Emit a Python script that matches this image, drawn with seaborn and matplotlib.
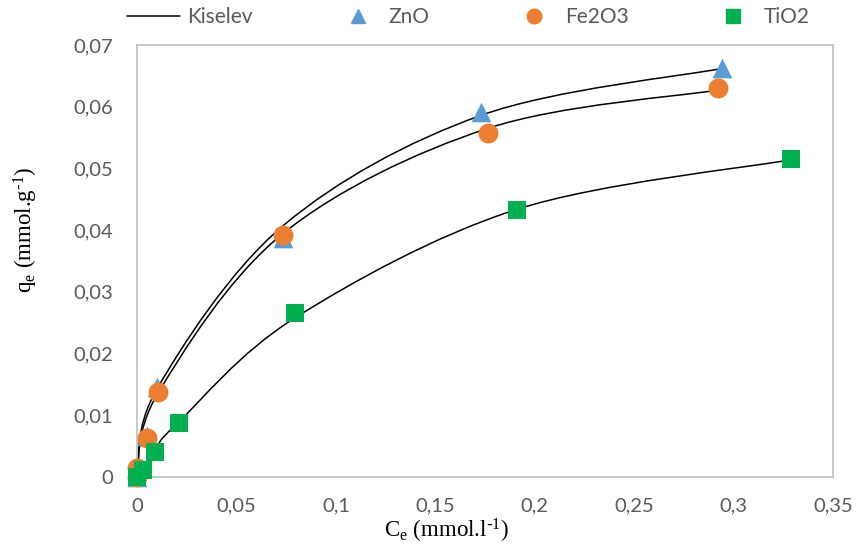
import numpy as np
import pandas as pd
import matplotlib
matplotlib.use("Agg")
import matplotlib.pyplot as plt
from matplotlib.path import Path
from matplotlib.patches import PathPatch
from matplotlib.lines import Line2D
import seaborn as sns

# Measured equilibrium data (Ce in mmol/l, qe in mmol/g)
zno_ce = [0.0, 0.005, 0.0101, 0.0734, 0.1730, 0.2942]
zno_qe = [0.0, 0.0066, 0.0146, 0.0387, 0.0591, 0.0663]

fe_ce = [0.0, 0.0, 0.0050, 0.0106, 0.0736, 0.1765, 0.2922]
fe_qe = [0.0, 0.0015, 0.0063, 0.0138, 0.0392, 0.0557, 0.0630]

ti_ce = [0.0, 0.0028, 0.0091, 0.0209, 0.0795, 0.1913, 0.3287]
ti_qe = [0.0, 0.0012, 0.0041, 0.0087, 0.0266, 0.0432, 0.0516]

# Kiselev model curves
kis_zno_ce = [0.0, 0.0101, 0.0734, 0.1730, 0.2942]
kis_zno_qe = [0.0, 0.0143, 0.0407, 0.0586, 0.0662]
kis_fe_ce = [0.0, 0.0106, 0.0736, 0.1765, 0.2922]
kis_fe_qe = [0.0, 0.0136, 0.0395, 0.0565, 0.0627]
kis_ti_ce = [0.0, 0.0091, 0.0209, 0.0795, 0.1913, 0.3287]
kis_ti_qe = [0.0, 0.0045, 0.0089, 0.0258, 0.0434, 0.0514]

x_ticks = [0, 0.05, 0.1, 0.15, 0.2, 0.25, 0.3, 0.35]
y_ticks = [0, 0.01, 0.02, 0.03, 0.04, 0.05, 0.06, 0.07]

sns.set_theme(style="white")
plt.rcParams["font.family"] = ["Lato", "DejaVu Sans"]
plt.rcParams["mathtext.default"] = "regular"

grey = "#595959"


def smooth_path(xs, ys):
    """Smoothed polyline through the points using cubic Bezier segments."""
    pts = np.column_stack([xs, ys]).astype(float)
    n = len(pts)
    verts = [pts[0]]
    codes = [Path.MOVETO]
    for i in range(n - 1):
        p0 = pts[max(i - 1, 0)]
        p1 = pts[i]
        p2 = pts[i + 1]
        p3 = pts[min(i + 2, n - 1)]
        c1 = p1 + (p2 - p0) / 6.0
        c2 = p2 - (p3 - p1) / 6.0
        verts += [c1, c2, p2]
        codes += [Path.CURVE4] * 3
    return Path(verts, codes)


fig = plt.figure(figsize=(8.56, 5.53), dpi=100)
ax = fig.add_axes([137 / 856, 76 / 553, 696 / 856, 432 / 553])

# Model curves
for xs, ys in [(kis_zno_ce, kis_zno_qe), (kis_fe_ce, kis_fe_qe),
               (kis_ti_ce, kis_ti_qe)]:
    ax.add_patch(PathPatch(smooth_path(xs, ys), facecolor="none",
                           edgecolor="black", lw=1.1, zorder=2))

# Experimental points
series = [
    ("ZnO", zno_ce, zno_qe, "^", "#5B9BD5", 200),
    ("Fe2O3", fe_ce, fe_qe, "o", "#ED7D31", 205),
    ("TiO2", ti_ce, ti_qe, "s", "#00B050", 185),
]
for name, xs, ys, mk, col, s in series:
    df = pd.DataFrame({"Ce": xs, "qe": ys})
    sns.scatterplot(data=df, x="Ce", y="qe", marker=mk, color=col, s=s,
                    linewidth=0, ax=ax, zorder=3, legend=False, clip_on=False)

ax.set_xlim(0, 0.35)
ax.set_ylim(0, 0.07)
ax.set_xticks(x_ticks)
ax.set_yticks(y_ticks)
ax.set_xticklabels([("%g" % v).replace(".", ",") for v in x_ticks])
ax.set_yticklabels([("%g" % v).replace(".", ",") for v in y_ticks])
ax.tick_params(axis="both", length=0, labelsize=14.5, labelcolor=grey)
ax.tick_params(axis="x", pad=15)
ax.tick_params(axis="y", pad=17)

for sp in ax.spines.values():
    sp.set_visible(True)
    sp.set_color("#BFBFBF")
    sp.set_linewidth(1.2)
ax.grid(False)

ax.set_xlabel(r"C$_e$ (mmol.l$^{\text{-}1}$)", family=["Liberation Serif"],
              fontsize=16.5, color="black")
ax.set_ylabel(r"q$_e$ (mmol.g$^{\text{-}1}$)", family=["Liberation Serif"],
              fontsize=16.5, color="black")
ax.xaxis.set_label_coords(0.444, -0.093)
ax.yaxis.set_label_coords(-0.139, 0.572)

# Legend entries placed along the top edge
legend_fs = 15
legend_items = [
    (Line2D([], [], color="black", lw=1.1), "Kiselev", 127, 0.34),
    (Line2D([], [], marker="^", color="#5B9BD5", ls="none", markersize=10.5),
     "ZnO", 331.5, 0.2),
    (Line2D([], [], marker="o", color="#ED7D31", ls="none", markersize=10.5),
     "Fe2O3", 507.5, 0.2),
    (Line2D([], [], marker="s", color="#00B050", ls="none", markersize=9.5),
     "TiO2", 706.5, 0.2),
]
for h, lab, x0, pad in legend_items:
    leg = fig.legend([h], [lab], loc="center left",
                     bbox_to_anchor=(x0 / 856, 1 - 17 / 553),
                     frameon=False, fontsize=legend_fs, handlelength=2.55,
                     handletextpad=pad, borderpad=0, borderaxespad=0)
    for t in leg.get_texts():
        t.set_color(grey)

fig.savefig("out.png", dpi=100)
